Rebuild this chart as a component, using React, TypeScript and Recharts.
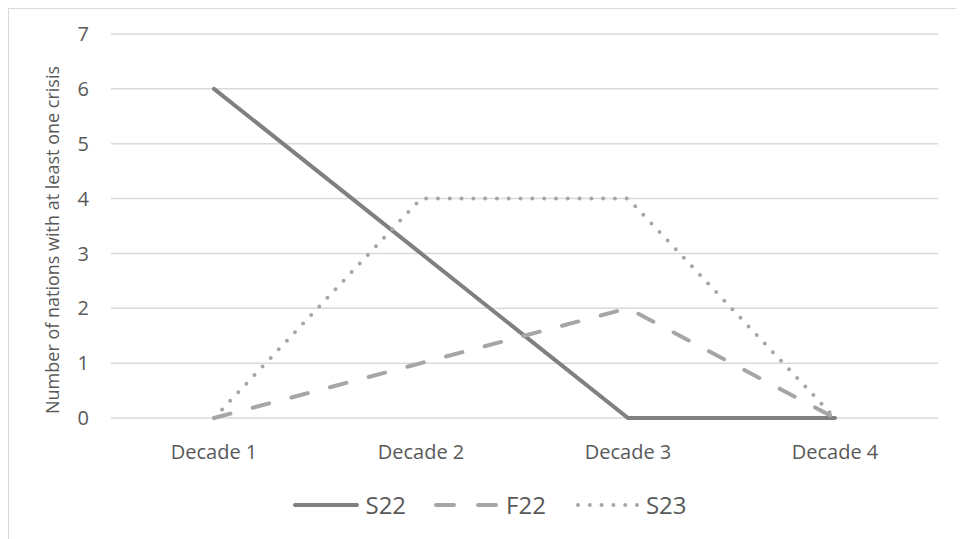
import { CartesianGrid, Legend, Line, LineChart, XAxis, YAxis } from 'recharts';

const decades = ['Decade 1', 'Decade 2', 'Decade 3', 'Decade 4'];
const s22 = [6, 3, 0, 0];
const f22 = [0, 1, 2, 0];
const s23 = [0, 4, 4, 0];
const yTicks = [0, 1, 2, 3, 4, 5, 6, 7];

const data = decades.map((name, i) => ({ name, S22: s22[i], F22: f22[i], S23: s23[i] }));

const FONT = '"Open Sans", sans-serif';
const TEXT = '#595959';

const series = [
  { key: 'S22', color: '#808080', dash: undefined },
  { key: 'F22', color: '#a6a6a6', dash: '17 23' },
  { key: 'S23', color: '#a6a6a6', dash: '0 11.8' },
];

function LegendRow() {
  return (
    <div style={{ display: 'flex', justifyContent: 'center', alignItems: 'center', gap: 28, fontFamily: FONT, paddingLeft: 33 }}>
      {series.map((s) => (
        <div key={s.key} style={{ display: 'flex', alignItems: 'center' }}>
          <svg width={66} height={12}>
            <line
              x1={s.key === 'S23' ? 4 : 2}
              x2={64}
              y1={6}
              y2={6}
              stroke={s.color}
              strokeWidth={4}
              strokeLinecap='round'
              strokeDasharray={s.key === 'F22' ? '18 24' : s.dash}
            />
          </svg>
          <span style={{ color: TEXT, fontSize: 24, marginLeft: 6, lineHeight: '30px' }}>{s.key}</span>
        </div>
      ))}
    </div>
  );
}

export default function App() {
  return (
    <div style={{ width: 954, height: 531, border: '1px solid #d9d9d9', background: '#fff' }}>
      <LineChart width={954} height={531} data={data} margin={{ top: 25, right: 25, left: 0, bottom: 20 }}>
        <CartesianGrid vertical={false} stroke='#d9d9d9' strokeWidth={1.5} />
        <XAxis
          dataKey='name'
          axisLine={false}
          tickLine={false}
          height={72}
          tickMargin={21}
          padding={{ left: 103, right: 103 }}
          tick={{ fill: TEXT, fontSize: 20, fontFamily: FONT }}
        />
        <YAxis
          width={102}
          domain={[0, 7]}
          ticks={yTicks}
          axisLine={false}
          tickLine={false}
          tickMargin={16}
          tick={{ fill: TEXT, fontSize: 20, fontFamily: FONT }}
          label={{
            content: () => (
              <text
                x={43}
                y={231}
                transform='rotate(-90 43 231)'
                textAnchor='middle'
                dominantBaseline='central'
                fill={TEXT}
                fontSize={18}
                fontFamily={FONT}
              >
                Number of nations with at least one crisis
              </text>
            ),
          }}
        />
        <Legend verticalAlign='bottom' height={30} content={() => <LegendRow />} />
        {series.map((s) => (
          <Line
            key={s.key}
            type='linear'
            dataKey={s.key}
            stroke={s.color}
            strokeWidth={4}
            strokeLinecap='round'
            strokeDasharray={s.dash}
            dot={false}
            activeDot={false}
            isAnimationActive={false}
          />
        ))}
      </LineChart>
    </div>
  );
}
